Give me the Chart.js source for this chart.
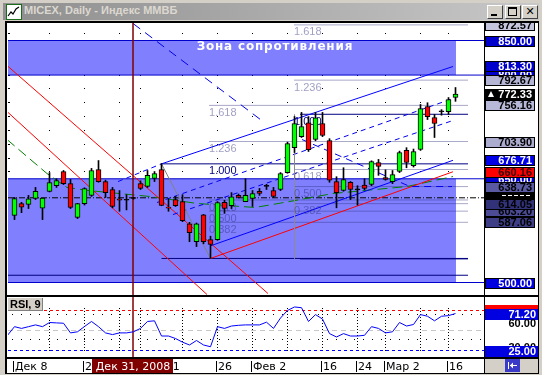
<!DOCTYPE html>
<html>
<head>
<meta charset="utf-8">
<title>MICEX, Daily</title>
<script src="https://cdn.jsdelivr.net/npm/chart.js@4.4.1/dist/chart.umd.min.js"></script>
<style>
  html, body { margin: 0; padding: 0; }
  body { width: 542px; height: 375px; position: relative; overflow: hidden; background: #d4d0c8; }
  #title { position: absolute; left: 3px; top: 3px; width: 536px; height: 17px; background: linear-gradient(to right, #8e8e8e, #c8c8c8); }
  #title .txt { position: absolute; left: 21px; top: 1px; line-height: 14px; font: bold 11px "Liberation Sans", Arial, sans-serif; color: #dcd8d0; white-space: nowrap; }
  #icon { position: absolute; left: 3px; top: 1px; }
  .btn { position: absolute; top: 2px; width: 16px; height: 14px; box-sizing: border-box; background: #d4d0c8;
         border: 1px solid; border-color: #fff #404040 #404040 #fff; }
  .btn i { position: absolute; background: #000; }
  #frame { position: absolute; left: 5px; top: 21px; width: 534px; height: 353px; background: #000; }
  canvas { position: absolute; background: #fff; }
  #main { left: 7px; top: 23px; }
  #rsi { left: 7px; top: 297px; }
</style>
</head>
<body>
<div id="title">
  <svg id="icon" width="16" height="16"><rect x="0.5" y="0.5" width="15" height="15" fill="#fff" stroke="#1c6c1c"/>
    <polyline points="2,12 5,8 7,10 10,5 13,3" fill="none" stroke="#000" stroke-width="1.2"/></svg>
  <span class="txt">MICEX, Daily - Индекс ММВБ</span>
  <div class="btn" style="left:484px"><i style="left:3px;top:8px;width:6px;height:2px"></i></div>
  <div class="btn" style="left:502px"><i style="left:2px;top:1px;width:9px;height:2px"></i><i style="left:2px;top:1px;width:1px;height:9px"></i><i style="left:10px;top:1px;width:1px;height:9px"></i><i style="left:2px;top:9px;width:9px;height:1px"></i></div>
  <div class="btn" style="left:519px;font:bold 11px 'DejaVu Sans',sans-serif;text-align:center;line-height:11px">✕</div>
</div>
<div id="frame"></div>
<canvas id="main" width="531" height="272"></canvas>
<canvas id="rsi" width="531" height="76"></canvas>
<script>
// ---------- data ----------
// daily bars, Dec 8 2008 .. Mar 17 2009 (index 0 = Dec 8)
const openP  = [597, 614, 613, 621.5, 607.5, 631.6, 640, 660.5, 643, 594,
                614, 626, 663.4, 646, 634.5, 621, 619, 622, 643, 639,
                650.4, 663.4, 609, 620, 617, 585, 559, 598, 562, 562,
                616, 611, 626, 617, 621.5, 632, 639, 633, 634.5, 659,
                695, 711, 731, 707, 730, 705.4, 646, 633, 645, 634,
                641, 641.7, 673.6, 651.8, 646, 660.5, 691, 669, 692.4, 754.5,
                738.6, 747, 747, 767.5];
const highP  = [623, 616, 626, 637.5, 622, 659, 650, 662, 649, 614.5,
                637, 665, 676.4, 648, 637.5, 633, 627, 623, 647, 662,
                660.5, 672, 621, 624.5, 627, 587, 586, 598.5, 567, 617,
                619, 630, 628, 650, 633, 636, 642, 637.5, 659, 703,
                740, 746, 740, 746, 746, 708, 653, 666, 646, 640,
                650, 676, 678, 663, 662, 690, 695, 693, 757.5, 760,
                743, 750, 767.5, 782];
const lowP   = [591, 601, 607, 620, 591, 631, 637.5, 641.7, 607, 592.5,
                612, 624.5, 645, 623, 608, 603, 605, 620.5, 634.5, 637.5,
                646, 611, 603, 610, 588, 559, 552, 556, 535, 561,
                600, 607, 622, 617, 610, 626, 634.5, 623, 633, 658,
                688, 709.7, 689.5, 705, 711, 645, 608, 632, 620, 612,
                634, 640, 655, 648, 643, 659, 666, 667, 691, 735.7,
                709.7, 742, 743, 762];
const closeP = [621.5, 609, 621, 632, 622, 644.6, 647.5, 643, 608.5, 614,
                636, 662, 646, 630, 610, 619, 620, 621.5, 636, 655,
                657.6, 611.4, 607.5, 611, 589.6, 572, 585, 559, 555, 615.7,
                607, 624, 623, 626, 628.6, 629, 639, 624.5, 657.6, 701,
                730, 725.6, 692, 738, 712.6, 648, 630, 649, 634.5, 635,
                636, 675, 667.8, 649, 656, 688, 673.6, 689.5, 751.7, 740,
                730, 747.5, 764.7, 772.33];
// RSI(9), first value belongs to the bar before Dec 8 (index -1)
const rsi9 = [44,
              54.8, 52.6, 54.8, 57, 54.8, 60, 59.5, 59.1, 47, 48.4,
              55, 61.3, 54.8, 47, 44.9, 47, 47, 48.4, 52.6, 61.3,
              62.1, 43.1, 43.1, 40, 35.4, 31.9, 37.5, 31.9, 29.7, 54.8,
              52.6, 55.6, 56.5, 57, 57, 57, 60.4, 52.6, 65.6, 75.1,
              79.4, 78.5, 61.3, 69.9, 64.3, 46.1, 41.9, 46.1, 43.1, 43.1,
              44, 54.8, 52.6, 47, 48.4, 60, 55.6, 57.5, 69.9, 67.8,
              62.1, 67.8, 68.6, 71.2];

const weekLines  = [5, 10, 15, 18, 24, 29, 34, 39, 44, 49, 53, 58, 62];
const dateTicks  = [0, 10, 18, 29, 34, 44, 49, 53, 62];
const dateLabels = ['Дек 8', '22', 'Янв 11', '26', 'Фев 2', '16', '24', 'Мар 2', '16'];
const cursorX = 16.93;
const cursorLabel = 'Дек 31, 2008';

const resistZone = [800, 850];
const supportZone = [500, 650];
const zoneEnd = 63.07;
const zoneCaption = 'Зона сопротивления';
const zoneCaptionAt = [37.2, 841.5];

const fibRatios = [0, 0.382, 0.5, 0.618, 1, 1.236, 1.618];
const fibA = [534.8, 671.6];     // low, high
const fibB = [534.15, 743.3];
const fibEnd = 64.79;

// drawn lines: [bar index, price] points
const upperChannel    = [[21, 671.6], [62.64, 812.4]];
const upperChannelExt = [[14.79, 646], [21, 671.6]];
const lowerChannel    = [[28, 553], [62.64, 676.71]];
const fanUp1          = [[20.36, 615.7], [62.64, 766.1]];
const fanUp2          = [[22.64, 598.3], [62.64, 734.3]];
const fanDown1        = [[16.93, 874.6], [35.5, 732.9]];
const fanDown2        = [[41.07, 706.8], [56.5, 638.8], [62.5, 638.8]];
const redRise         = [[28, 534.8], [62.64, 660.16]];
const redFall1        = [[-1.07, 813.8], [36.21, 484.1]];
const redFall2        = [[-1.07, 747.3], [27.5, 482.6]];
const fibTrendA       = [[21, 671.6], [28, 534.8]];
const fibTrendB       = [[40, 534.15], [40, 743.3]];
const greenLine       = [[-1.07, 706.8], [4.64, 657.6], [7.5, 637.4], [10.5, 633.1], [19.36, 624.4],
                         [26.07, 614.3], [34.36, 608.5], [39.36, 617.2], [45.5, 628.7], [56.07, 638.8], [62.64, 653.3]];
const navyLevel = 510.5;
const pivotLevel = 622.5;

const priceTags = [872.57, 800.00, 813.30, 850.00, 792.67, 772.33, 756.16, 703.90, 676.71,
                   650.00, 622.50, 660.16, 638.73, 587.06, 603.20, 614.05, 500.00];
const rsiLevels = [75, 50, 25];
const rsiGridRows = [70, 40];
const rsiTags = [75, 71.20, 60, 30, 25];

// ---------- scales ----------
const X_MIN = -6.5 / 7, X_MAX = X_MIN + 68;
const K = 350 / 242;
const Y_MAX = 850 + 17.5 * K, Y_MIN = Y_MAX - 272 * K;

const FIB_STROKE = 'rgba(40,40,120,0.4)';
const NAVY = '#000080';

function pts(a) { return a.map(function (p) { return {x: p[0], y: p[1]}; }); }
function flat(v, x0, x1) { return [{x: x0, y: v}, {x: x1, y: v}]; }
function line(data, color, extra) {
	return Object.assign({type: 'line', data: data, borderColor: color, borderWidth: 1,
		pointRadius: 0, fill: false, tension: 0, order: 30}, extra || {});
}

var bars = openP.map(function (o, i) { return i; });

var datasets = [
	// candles: wicks first (index 0), bodies on top
	{type: 'bar', data: bars.map(function (i) { return {x: i, y: [lowP[i], highP[i]]}; }),
	 backgroundColor: '#000', borderWidth: 0, barThickness: 1, grouped: false, order: 2},
	{type: 'bar', data: bars.map(function (i) { return {x: i, y: [Math.min(openP[i], closeP[i]), Math.max(openP[i], closeP[i])]}; }),
	 backgroundColor: bars.map(function (i) {
		if (Math.abs(closeP[i] - openP[i]) < 1.2) return '#000';
		return closeP[i] > openP[i] ? '#00ff00' : '#ff0000';
	 }),
	 borderColor: '#000', borderWidth: 1, borderSkipped: false, barThickness: 5, grouped: false, minBarLength: 1, order: 1},

	// zones
	line(flat(resistZone[1], X_MIN, zoneEnd), 'rgba(0,0,0,0)', {fill: {value: resistZone[0]}, backgroundColor: '#8080ff', order: 100}),
	line(flat(supportZone[1], X_MIN, zoneEnd), 'rgba(0,0,0,0)', {fill: {value: supportZone[0]}, backgroundColor: '#8080ff', order: 100}),
	line(flat(resistZone[0], X_MIN, X_MAX), '#0000cc', {order: 60}),
	line(flat(resistZone[1], X_MIN, X_MAX), '#0000cc', {order: 60}),
	line(flat(supportZone[0], X_MIN, X_MAX), '#0000cc', {order: 60}),
	line(flat(supportZone[1], X_MIN, X_MAX), '#0000cc', {order: 60}),
	line(flat(navyLevel, X_MIN, fibEnd), NAVY, {order: 60}),
	line(flat(pivotLevel, X_MIN, X_MAX), '#000', {borderDash: [6, 2, 1, 2], order: 55}),

	// trend lines
	line(pts(fibTrendA), '#808080'),
	line(pts(fibTrendB), '#8c8c8c'),
	line(pts(upperChannel), '#0000ff'),
	line(pts(lowerChannel), '#0000ff'),
	line(pts(upperChannelExt), '#0000ff', {borderDash: [5, 4]}),
	line(pts(fanUp1), '#0000ee', {borderDash: [5, 4]}),
	line(pts(fanUp2), '#0000ee', {borderDash: [5, 4]}),
	line(pts(fanDown1), '#0000ee', {borderDash: [9, 6]}),
	line(pts(fanDown2), '#0000ee', {borderDash: [7, 5]}),
	line(pts(redRise), '#ff0000'),
	line(pts(redFall1), '#ff0000'),
	line(pts(redFall2), '#ff0000'),
	line(pts(greenLine), '#008000', {borderDash: [10, 5]}),

	// cursor
	line([{x: cursorX, y: Y_MIN - 10}, {x: cursorX, y: Y_MAX + 10}], '#800000', {borderWidth: 1.5, order: 20})
];

// fibonacci levels
[[fibA, 21, 27.79], [fibB, 40.79, 39.93]].forEach(function (f) {
	var lo = f[0][0], hi = f[0][1];
	fibRatios.forEach(function (r) {
		var v = lo + r * (hi - lo);
		var main = (r === 0 || r === 1);
		datasets.push(line(flat(v, main ? f[1] : f[2], fibEnd), main ? NAVY : FIB_STROKE, {order: 50}));
	});
});

const mainGrid = {
	id: 'mainGrid',
	beforeDatasetsDraw: function (chart) {
		var ctx = chart.ctx, a = chart.chartArea, x = chart.scales.x, y = chart.scales.y;
		ctx.save();
		ctx.fillStyle = '#000';
		for (var p = 500; p <= 860; p += 20) {
			var py = Math.floor(y.getPixelForValue(p));
			ctx.fillRect(a.left, py, 2, 1);
			weekLines.forEach(function (w) { ctx.fillRect(Math.floor(x.getPixelForValue(w)), py, 1, 1); });
		}
		ctx.restore();
	}
};

const mainLabels = {
	id: 'mainLabels',
	beforeDatasetDraw: function (chart, args) {
		if (args.index !== 0) return;
		var ctx = chart.ctx, x = chart.scales.x, y = chart.scales.y;
		ctx.save();
		ctx.font = '11px "Liberation Sans", Arial, sans-serif';
		ctx.textBaseline = 'top';
		[[fibA, 27.79], [fibB, 39.93]].forEach(function (f) {
			fibRatios.forEach(function (r) {
				if (r === 0) return;
				var v = f[0][0] + r * (f[0][1] - f[0][0]);
				ctx.fillStyle = r === 1 ? NAVY : 'rgba(40,40,120,0.45)';
				ctx.fillText(r.toFixed(3), x.getPixelForValue(f[1]), y.getPixelForValue(v) + 2);
			});
		});
		ctx.font = 'bold 12px "DejaVu Sans", sans-serif';
		ctx.letterSpacing = '0.8px';
		ctx.fillStyle = '#fff';
		ctx.textAlign = 'center';
		ctx.textBaseline = 'middle';
		ctx.fillText(zoneCaption, x.getPixelForValue(zoneCaptionAt[0]), y.getPixelForValue(zoneCaptionAt[1]));
		ctx.restore();
	}
};

const TAG_STYLE = {
	'872.57': ['#c4c4dc', '#000'], '800.00': ['#0000cc', '#fff'], '813.30': ['#0000cc', '#fff'],
	'850.00': ['#0000cc', '#fff'], '792.67': ['#b4b4d4', '#000'], '772.33': ['#000', '#fff'],
	'756.16': ['#b8b8d8', '#000'], '703.90': ['#acacce', '#000'], '676.71': ['#0000e8', '#fff'],
	'650.00': ['#0000cc', '#fff'], '622.50': ['#000', null], '660.16': ['#ff0000', '#300000'],
	'638.73': ['#5a5aa2', '#000'], '587.06': ['#3e3e86', '#000'], '603.20': ['#4c4c96', '#000'],
	'614.05': ['#32327a', '#000'], '500.00': ['#0000e0', '#fff']
};

const priceAxis = {
	id: 'priceAxis',
	afterDraw: function (chart) {
		var ctx = chart.ctx, a = chart.chartArea, y = chart.scales.y;
		ctx.save();
		ctx.fillStyle = '#000';
		ctx.fillRect(a.right, 0, 1, chart.height);
		ctx.font = 'bold 11px "Liberation Sans", Arial, sans-serif';
		ctx.textAlign = 'right';
		ctx.textBaseline = 'middle';
		priceTags.forEach(function (v) {
			var key = v.toFixed(2), st = TAG_STYLE[key];
			var py = Math.round(y.getPixelForValue(v));
			var left = a.right + 1, w = 50, top = py - 5, h = 11;
			ctx.fillStyle = '#000';
			ctx.fillRect(left, top, w, h);
			ctx.fillStyle = st[0];
			ctx.fillRect(left + 1, top + 1, w - 2, h - 2);
			if (st[1]) {
				ctx.fillStyle = st[1];
				ctx.fillText(key, left + w - 3, py + 1);
			} else {
				// hidden tag: only the tops of its digits show
				ctx.fillStyle = '#fff';
				for (var k = 0; k < 5; k++) ctx.fillRect(left + 17 + k * 6, top + 2, 4, 1);
			}
			if (v === closeP[closeP.length - 1]) {
				ctx.beginPath();
				ctx.moveTo(left + 3, py + 3); ctx.lineTo(left + 9, py + 3); ctx.lineTo(left + 6, py - 3);
				ctx.closePath();
				ctx.fill();
			}
		});
		ctx.restore();
	}
};

new Chart(document.getElementById('main'), {
	type: 'line',
	data: {datasets: datasets},
	options: {
		responsive: false, animation: false, devicePixelRatio: 1,
		layout: {padding: {left: 1, right: 54, top: 0, bottom: 0}},
		plugins: {legend: {display: false}, tooltip: {enabled: false}},
		scales: {
			x: {type: 'linear', min: X_MIN, max: X_MAX, offset: false, display: false},
			y: {type: 'linear', min: Y_MIN, max: Y_MAX, display: false}
		}
	},
	plugins: [mainGrid, mainLabels, priceAxis]
});

// ---------- RSI panel + date strip ----------
const RSI_MAX = 75 + 13.5 / 0.8, RSI_MIN = 25 - 6.5 / 0.8;

const RSI_TAG_STYLE = {
	'75.00': ['#ff0000', '#ff0000'], '71.20': ['#0000e0', '#fff'], '60.00': [null, '#000'],
	'30.00': [null, '#000'], '25.00': ['#0000e0', '#fff']
};

const rsiDecor = {
	id: 'rsiDecor',
	beforeDatasetsDraw: function (chart) {
		var ctx = chart.ctx, a = chart.chartArea, x = chart.scales.x, y = chart.scales.y;
		ctx.save();
		ctx.fillStyle = '#000';
		var top = Math.round(y.getPixelForValue(78)), bot = Math.round(y.getPixelForValue(26));
		weekLines.forEach(function (w) {
			var px = Math.floor(x.getPixelForValue(w));
			for (var py = top; py <= bot; py += 3) ctx.fillRect(px, py, 1, 1);
		});
		rsiGridRows.forEach(function (l) {
			var py = Math.round(y.getPixelForValue(l));
			for (var px = a.left + 4; px < a.right; px += 9) ctx.fillRect(px, py, 1, 1);
		});
		ctx.restore();
	},
	afterDraw: function (chart) {
		var ctx = chart.ctx, a = chart.chartArea, x = chart.scales.x, y = chart.scales.y;
		ctx.save();
		ctx.fillStyle = '#000';
		ctx.fillRect(a.right, 0, 1, a.bottom);

		// right axis tags
		ctx.font = 'bold 11px "Liberation Sans", Arial, sans-serif';
		ctx.textAlign = 'right';
		ctx.textBaseline = 'middle';
		rsiTags.forEach(function (v) {
			var key = v.toFixed(2), st = RSI_TAG_STYLE[key];
			var py = Math.round(y.getPixelForValue(v));
			var left = a.right + 1, w = 53;
			if (st[0]) {
				ctx.fillStyle = st[0];
				ctx.fillRect(left, py - 5, w, 11);
			}
			ctx.fillStyle = st[1];
			ctx.fillText(key, left + w - 2, py + 1);
		});

		// indicator caption
		ctx.fillStyle = '#808080';
		ctx.fillRect(1, 1, 35, 13);
		ctx.fillStyle = '#d4d0c8';
		ctx.fillRect(1, 1, 34, 12);
		ctx.fillStyle = '#000';
		ctx.textAlign = 'left';
		ctx.textBaseline = 'alphabetic';
		ctx.fillText('RSI, 9', 3, 11);

		// date strip
		var s = a.bottom;
		ctx.fillStyle = '#000';
		ctx.fillRect(0, s, chart.width, 2);
		ctx.fillStyle = '#fff';
		ctx.fillRect(0, s + 2, a.right, 14);
		ctx.fillStyle = '#000';
		ctx.fillRect(a.right, s + 2, 1, 14);
		ctx.fillStyle = '#d4d0c8';
		ctx.fillRect(a.right + 1, s + 2, chart.width - a.right - 1, 14);
		// scroll button
		ctx.fillStyle = '#3a3ac8';
		ctx.fillRect(498, s + 2, 15, 13);
		ctx.fillStyle = '#fff';
		ctx.fillRect(501, s + 5, 1, 7);
		ctx.fillRect(503, s + 8, 7, 1);
		ctx.beginPath();
		ctx.moveTo(503, s + 8.5); ctx.lineTo(506, s + 5.5); ctx.lineTo(506, s + 11.5); ctx.closePath();
		ctx.fill();

		ctx.fillStyle = '#000';
		ctx.font = '11px "DejaVu Sans", sans-serif';
		dateTicks.forEach(function (d, k) {
			var px = Math.floor(x.getPixelForValue(d)) - 1;
			ctx.fillRect(px, s + 4, 1, 11);
			ctx.fillText(dateLabels[k], px + 2, s + 13);
		});
		var cx = x.getPixelForValue(cursorX);
		ctx.fillStyle = '#800000';
		ctx.fillRect(Math.round(cx - 41), s + 2, 81, 14);
		ctx.fillStyle = '#fff';
		ctx.textAlign = 'center';
		ctx.fillText(cursorLabel, cx, s + 13);
		ctx.restore();
	}
};

new Chart(document.getElementById('rsi'), {
	type: 'line',
	data: {datasets: [
		line(rsi9.map(function (v, k) { return {x: k - 1, y: v}; }), '#0000ff', {order: 1}),
		line(flat(rsiLevels[0], X_MIN, X_MAX), '#ff0000', {borderDash: [3, 3], order: 10}),
		line(flat(rsiLevels[1], X_MIN, X_MAX), '#c8c8c8', {borderDash: [5, 4], order: 10}),
		line(flat(rsiLevels[2], X_MIN, X_MAX), '#0000ff', {borderDash: [3, 3], order: 10}),
		line([{x: cursorX, y: 0}, {x: cursorX, y: 100}], '#800000', {borderWidth: 1.5, order: 5})
	]},
	options: {
		responsive: false, animation: false, devicePixelRatio: 1,
		layout: {padding: {left: 1, right: 54, top: 0, bottom: 16}},
		plugins: {legend: {display: false}, tooltip: {enabled: false}},
		scales: {
			x: {type: 'linear', min: X_MIN, max: X_MAX, offset: false, display: false},
			y: {type: 'linear', min: RSI_MIN, max: RSI_MAX, display: false}
		}
	},
	plugins: [rsiDecor]
});
</script>
</body>
</html>
